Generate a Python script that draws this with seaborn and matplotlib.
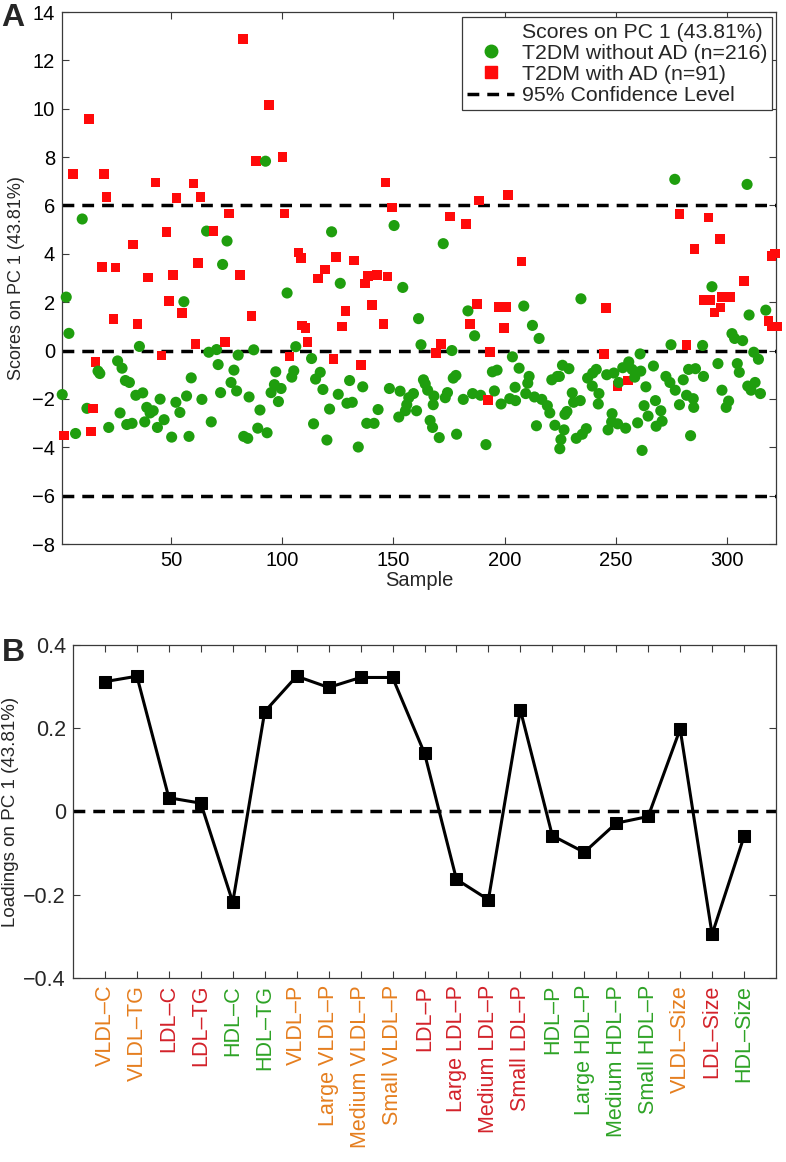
import numpy as np
import pandas as pd
import matplotlib
matplotlib.use("Agg")
import matplotlib.pyplot as plt
import seaborn as sns
from matplotlib.lines import Line2D

# ---------------- Panel A data (scores on PC 1) ----------------
green_sample = [
    2.9, 4.1, 10.1, 1.1, 7.1, 12.2, 17.2, 18.0, 22.0, 26.0, 28.0, 29.5, 31.3, 27.1, 30.1, 32.5,
    34.2, 37.3, 35.8, 39.1, 40.6, 42.0, 38.2, 43.9, 46.9, 45.1, 50.3, 52.2,
    92.5, 66.0, 75.2, 73.2, 55.8, 102.2, 67.0, 70.5, 80.2, 87.2, 71.2, 78.3, 59.1, 77.0, 79.5,
    72.3, 57.0, 63.9, 54.0, 85.1, 90.0, 68.1, 58.1, 82.7, 84.5, 89.0, 93.2, 97.1, 95.0, 96.5,
    99.5, 98.3, 105.2, 104.3, 106.1,
    113.2, 114.1, 122.2, 150.3, 126.1, 154.2, 161.3, 162.4, 172.4, 117.1, 115.0, 118.3, 121.3,
    120.1, 125.2, 130.3, 129.1, 131.5, 136.2, 134.2, 138.0, 141.3, 143.1, 148.2, 153.0, 152.4,
    156.0, 156.9, 159.0, 155.4, 160.4, 163.5, 165.4, 164.3, 167.9, 166.5, 167.6, 170.6,
    183.5, 186.5, 208.6, 212.5, 215.5, 176.3, 203.5, 206.5, 194.5, 196.6, 178.1, 176.9, 211.0,
    210.4, 204.7, 195.4, 185.6, 174.3, 209.5, 213.4, 216.7, 219.2, 221.2, 223.7, 226.0, 220.3,
    168.2, 173.3, 181.4, 189.2, 198.4, 202.3, 204.9, 178.4, 191.6, 214.3, 222.6, 224.8, 226.7,
    228.0,
    276.5, 234.3, 274.8, 260.9, 228.9, 224.6, 230.4, 231.0, 234.0, 227.1, 225.3, 232.2, 234.9,
    236.7, 237.3, 239.4, 239.6, 241.2, 242.4, 242.1, 246.5, 248.1, 249.1, 251.3, 253.1, 255.8,
    257.3, 250.8, 254.4, 259.8, 261.8, 263.5, 262.7, 264.5, 266.9, 267.8, 268.1, 270.8, 270.2,
    272.5, 274.3, 276.7, 278.6, 280.3, 282.7, 283.6, 285.0, 261.2, 258.5, 245.9, 248.3,
    309.0, 293.2, 309.9, 317.4, 302.2, 303.4, 307.0, 289.0, 312.0, 314.1, 295.9, 304.6, 305.5,
    285.8, 289.4, 297.7, 309.3, 312.6, 310.8, 315.0, 281.8, 284.8, 300.7, 299.6,
]
green_score = [
    2.21, 0.71, 5.44, -1.82, -3.43, -2.39, -0.85, -0.95, -3.18, -0.43, -0.73, -1.24, -1.32, -2.58, -3.06, -3.01,
    -1.85, -1.75, 0.17, -2.35, -2.58, -2.49, -2.95, -3.18, -2.86, -2.01, -3.58, -2.14,
    7.83, 4.94, 4.53, 3.56, 2.02, 2.38, -0.07, 0.04, -0.19, 0.03, -0.58, -0.81, -1.13, -1.32, -1.67,
    -1.74, -1.88, -2.02, -2.56, -1.92, -2.46, -2.95, -3.55, -3.55, -3.63, -3.21, -3.40, -0.88, -1.74, -1.41,
    -1.57, -2.11, -0.84, -1.10, 0.16,
    -0.33, -3.03, 4.91, 5.17, 2.78, 2.61, 1.32, 0.24, 4.42, -0.90, -1.18, -1.61, -2.42,
    -3.70, -1.81, -1.24, -2.18, -2.14, -1.50, -3.99, -3.01, -3.01, -2.44, -1.57, -1.68, -2.75,
    -2.24, -1.95, -1.78, -2.49, -2.49, -1.21, -1.64, -1.38, -2.24, -2.89, -3.18, -3.60,
    1.64, 0.61, 1.84, 1.04, 0.50, 0.00, -0.26, -0.73, -0.88, -0.81, -1.03, -1.14, -1.07,
    -1.35, -1.52, -1.67, -1.78, -1.74, -1.78, -1.92, -2.02, -2.28, -1.21, -1.07, -0.61, -2.58,
    -1.88, -1.95, -2.02, -1.85, -2.21, -1.99, -2.07, -3.46, -3.89, -3.11, -3.09, -4.06, -3.28,
    -2.52,
    7.08, 2.14, 0.24, -0.14, -0.75, -1.07, -1.75, -2.14, -2.07, -2.64, -3.68, -3.63, -3.46,
    -3.23, -1.14, -1.47, -0.93, -0.78, -1.78, -2.21, -3.28, -2.95, -0.93, -1.32, -0.71, -0.47,
    -0.78, -3.03, -3.21, -2.99, -4.13, -1.50, -2.28, -2.71, -0.64, -2.07, -3.13, -2.92, -2.49,
    -1.07, -1.32, -1.64, -2.24, -1.21, -0.78, -3.52, -2.35, -0.85, -1.10, -1.00, -2.61,
    6.87, 2.64, 1.47, 1.67, 0.70, 0.50, 0.41, 0.21, -0.07, -0.36, -0.54, -0.54, -0.90,
    -0.75, -1.07, -1.64, -1.47, -1.32, -1.64, -1.78, -1.85, -1.99, -2.09, -2.35,
]
red_sample = [
    2.0, 5.9, 13.1, 14.0, 14.9, 16.0, 19.0, 20.0, 21.0, 24.1, 25.0, 33.0, 34.9, 39.8, 43.0, 45.8,
    48.0, 49.0, 51.0, 52.4, 54.9,
    60.2, 61.1, 62.1, 63.2, 69.1, 74.2, 76.1, 81.1, 82.3, 86.2, 88.1, 94.2, 100.2, 101.1, 103.2,
    107.3, 108.4, 109.0, 110.5, 111.4,
    116.2, 119.2, 123.1, 124.3, 127.0, 128.5, 132.4, 135.3, 137.1, 138.6, 140.4, 142.5, 145.5,
    146.4, 147.3, 149.4,
    169.1, 171.5, 175.4, 182.6, 184.5, 187.5, 188.4, 192.5, 193.4, 197.2, 199.6, 200.8, 201.4, 207.5,
    244.6, 245.6, 250.8, 255.5, 278.6, 281.7, 285.4, 289.6, 291.7, 292.6, 294.4, 296.8, 297.1,
    297.7, 301.6, 307.5, 318.6, 320.0, 320.3, 321.6, 322.5,
]
red_score = [
    -3.52, 7.29, 9.57, -3.35, -2.39, -0.47, 3.46, 7.29, 6.34, 1.31, 3.43, 4.39, 1.11, 3.02, 6.95, -0.21,
    4.91, 2.04, 3.12, 6.31, 1.54,
    6.91, 0.26, 3.63, 6.34, 4.94, 0.36, 5.66, 3.13, 12.89, 1.42, 7.83, 10.16, 8.01, 5.66, -0.24,
    4.06, 3.83, 1.04, 0.93, 0.36,
    2.98, 3.35, -0.36, 3.87, 1.00, 1.64, 3.72, -0.60, 2.78, 3.09, 1.88, 3.13, 1.11,
    6.95, 3.06, 5.91,
    -0.10, 0.26, 5.54, 5.24, 1.11, 1.92, 6.20, -2.04, -0.07, 1.81, 0.93, 1.81, 6.44, 3.68,
    -0.14, 1.75, -1.47, -1.24, 5.65, 0.24, 4.20, 2.09, 5.50, 2.09, 1.57, 4.60, 1.78,
    2.21, 2.21, 2.88, 1.21, 3.92, 1.00, 4.02, 1.00,
]
confidence_level = 6.0
sample_ticks = [50, 100, 150, 200, 250, 300]
score_ticks = list(range(-8, 15, 2))

# ---------------- Panel B data (loadings on PC 1) ----------------
loading_labels = [
    "VLDL–C", "VLDL–TG", "LDL–C", "LDL–TG", "HDL–C", "HDL–TG", "VLDL–P", "Large VLDL–P",
    "Medium VLDL–P", "Small VLDL–P", "LDL–P", "Large LDL–P", "Medium LDL–P", "Small LDL–P",
    "HDL–P", "Large HDL–P", "Medium HDL–P", "Small HDL–P", "VLDL–Size", "LDL–Size", "HDL–Size",
]
loading_values = [
    0.312, 0.325, 0.033, 0.020, -0.218, 0.240, 0.325, 0.298, 0.322, 0.322, 0.140,
    -0.163, -0.212, 0.244, -0.058, -0.098, -0.028, -0.012, 0.198, -0.295, -0.060,
]
label_groups = [
    "VLDL", "VLDL", "LDL", "LDL", "HDL", "HDL", "VLDL", "VLDL", "VLDL", "VLDL", "LDL",
    "LDL", "LDL", "LDL", "HDL", "HDL", "HDL", "HDL", "VLDL", "LDL", "HDL",
]
group_colors = {"VLDL": "#e57e1f", "LDL": "#d3222a", "HDL": "#2ea326"}

GREEN = "#1f9e0e"
RED = "#ff0a0a"

sns.set_theme(style="ticks")
plt.rcParams["font.family"] = ["Liberation Sans", "DejaVu Sans"]
plt.rcParams["axes.edgecolor"] = "#3a3a3a"
plt.rcParams["axes.linewidth"] = 0.9

NARROW = ["Liberation Sans Narrow", "Liberation Sans", "DejaVu Sans"]
DASH = (3.4, 2.3)

fig = plt.figure(figsize=(7.86, 11.62), dpi=100)
axA = fig.add_axes([62 / 786, 1 - 544 / 1162, (776 - 62) / 786, (544 - 12) / 1162])
axB = fig.add_axes([73 / 786, 1 - 978 / 1162, (776 - 73) / 786, (978 - 645) / 1162])

# ---- Panel A ----
df = pd.DataFrame({
    "sample": green_sample + red_sample,
    "score": green_score + red_score,
    "group": ["without"] * len(green_sample) + ["with"] * len(red_sample),
}).sort_values("sample", kind="stable")

sns.scatterplot(
    data=df, x="sample", y="score", hue="group", style="group", size="group",
    palette={"without": GREEN, "with": RED},
    markers={"without": "o", "with": "s"},
    sizes={"without": 64, "with": 48},
    linewidth=0, legend=False, ax=axA, zorder=3,
)
for c in axA.collections:
    c.set_clip_on(False)

for yv in (-confidence_level, 0.0, confidence_level):
    axA.axhline(yv, color="black", lw=2.5, dashes=DASH, zorder=2)

axA.set_xlim(1, 322)
axA.set_ylim(-8, 14)
axA.set_xticks(sample_ticks)
axA.set_yticks(score_ticks)
axA.tick_params(direction="in", top=True, right=True, length=5, width=0.8,
                color="#3a3a3a", labelsize=14.5, labelcolor="black",
                labelfontfamily=NARROW, pad=5)
axA.set_xlabel("Sample", fontsize=14.5, labelpad=1, family=NARROW)
axA.set_ylabel("Scores on PC 1 (43.81%)", fontsize=13, labelpad=5)

handles = [
    Line2D([], [], linestyle="none", marker=None, label="Scores on PC 1 (43.81%)"),
    Line2D([], [], linestyle="none", marker="o", color=GREEN, markersize=9,
           label="T2DM without AD (n=216)"),
    Line2D([], [], linestyle="none", marker="s", color=RED, markersize=8,
           label="T2DM with AD (n=91)"),
    Line2D([], [], color="black", lw=2.5, dashes=DASH, label="95% Confidence Level"),
]
leg = axA.legend(handles=handles, loc="upper right", bbox_to_anchor=(0.995, 0.99),
                 borderaxespad=0, frameon=True, fancybox=False, fontsize=15.3,
                 handlelength=2.2, handletextpad=0.35, labelspacing=0.1,
                 borderpad=0.25, framealpha=1)
leg.get_frame().set_edgecolor("#3a3a3a")
leg.get_frame().set_linewidth(0.9)

# ---- Panel B ----
positions = np.arange(1, len(loading_values) + 1)
sns.lineplot(x=positions, y=loading_values, ax=axB, color="black", lw=2.2,
             marker="s", markersize=9, markeredgecolor="black",
             markerfacecolor="black", zorder=3)
axB.axhline(0, color="black", lw=2.5, dashes=DASH, zorder=2)
axB.set_xlim(0, 22)
axB.set_ylim(-0.4, 0.4)
axB.set_yticks([-0.4, -0.2, 0, 0.2, 0.4])
axB.set_yticklabels(["−0.4", "−0.2", "0", "0.2", "0.4"])
axB.set_xticks(positions)
axB.set_xticklabels(loading_labels, rotation=90, fontsize=15.5)
for lbl, g in zip(axB.get_xticklabels(), label_groups):
    lbl.set_color(group_colors[g])
axB.tick_params(axis="y", labelsize=15.5, labelfontfamily=NARROW)
axB.tick_params(direction="in", top=True, right=True, length=5, width=0.8,
                color="#3a3a3a", pad=5)
axB.set_ylabel("Loadings on PC 1 (43.81%)", fontsize=13.5, labelpad=3)
axB.set_xlabel("")

fig.text(0.002, 0.997, "A", fontsize=23, fontweight="bold", va="top", ha="left")
fig.text(0.002, 1 - 638 / 1162, "B", fontsize=23, fontweight="bold", va="top", ha="left")

fig.savefig("out.png", dpi=100)
